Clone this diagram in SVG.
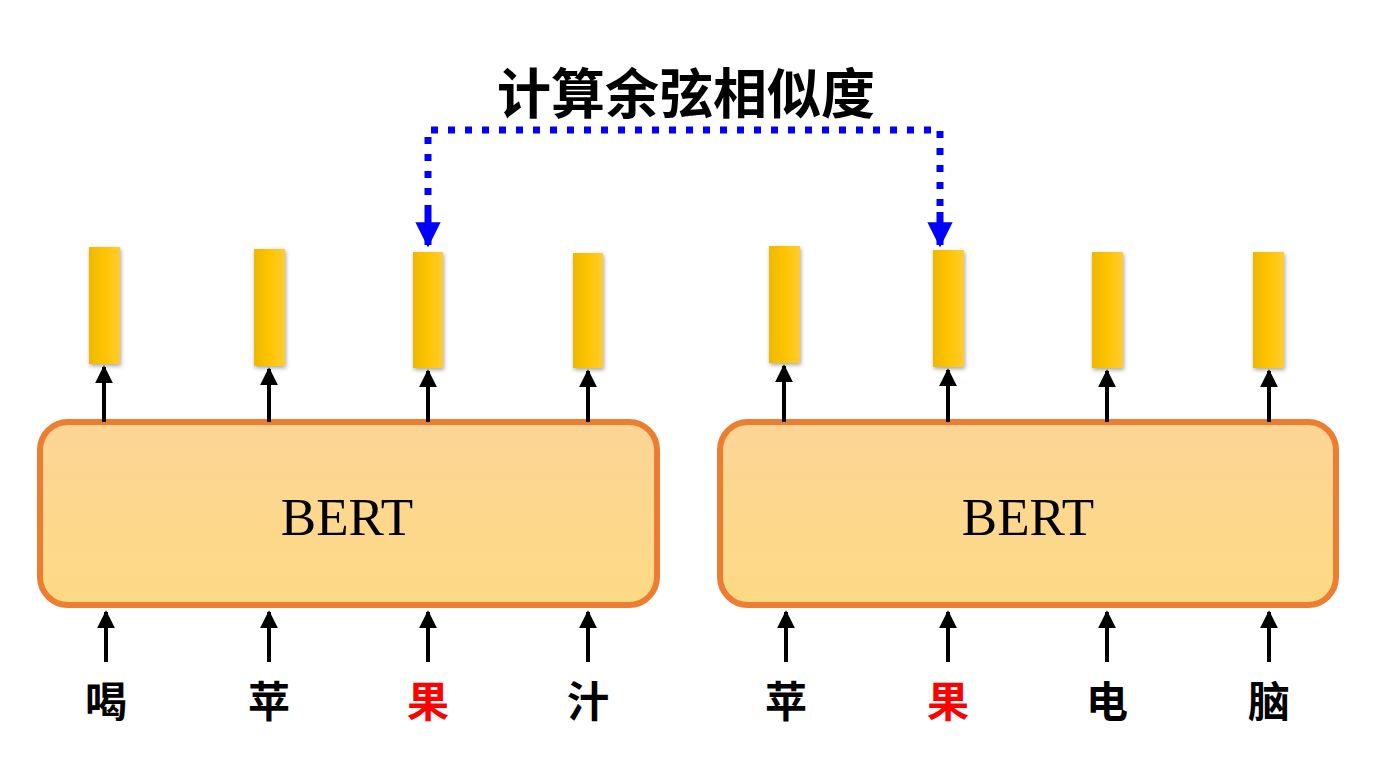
<svg xmlns="http://www.w3.org/2000/svg" width="1380" height="776" viewBox="0 0 1380 776">
<defs>
<linearGradient id="bar" x1="0" x2="1" y1="0" y2="0"><stop offset="0" stop-color="#EDB800"/><stop offset="0.5" stop-color="#FFC400"/><stop offset="1" stop-color="#FFCC33"/></linearGradient>
<linearGradient id="box" x1="0" x2="0" y1="0" y2="1"><stop offset="0" stop-color="#FCD596"/><stop offset="1" stop-color="#FDDA85"/></linearGradient>
<filter id="sh" x="-30%" y="-10%" width="160%" height="130%"><feDropShadow dx="1" dy="2" stdDeviation="2" flood-opacity="0.35"/></filter>
<marker id="ah" viewBox="0 0 10 10" refX="9" refY="5" markerWidth="4.5" markerHeight="4.5" orient="auto"><path d="M0,0L10,5L0,10z" fill="#000"/></marker>
<marker id="bh" viewBox="0 0 10 10" refX="9" refY="5" markerWidth="3.6" markerHeight="3.6" orient="auto"><path d="M0,0L10,5L0,10z" fill="#0000FF"/></marker>
</defs>
<style>
.bar{fill:url(#bar);filter:url(#sh)}
.bx{fill:url(#box);stroke:#ED7D31;stroke-width:6}
.a{stroke:#000;stroke-width:4;marker-end:url(#ah);fill:none}
.t{font-family:"Liberation Serif","Noto Sans CJK SC",serif;font-weight:bold;font-size:42px;text-anchor:middle}
.bt{font-family:"Liberation Serif",serif;font-size:53px;text-anchor:middle}
</style>
<g id="title"><text x="686" y="114" class="t" style="font-size:54px">计算余弦相似度</text></g>
<g id="bert1"><rect x="40" y="422" width="617" height="183" rx="28" class="bx"/><text x="347" y="535" class="bt">BERT</text></g>
<g id="bert2"><rect x="720" y="422" width="616" height="183" rx="28" class="bx"/><text x="1028" y="535" class="bt">BERT</text></g>
<g id="vectors">
<rect x="89" y="247" width="31" height="117" class="bar"/>
<rect x="254" y="249" width="31" height="117" class="bar"/>
<rect x="413" y="252" width="30" height="116" class="bar"/>
<rect x="573" y="253" width="30" height="115" class="bar"/>
<rect x="769" y="246" width="31" height="117" class="bar"/>
<rect x="933" y="250" width="31" height="117" class="bar"/>
<rect x="1092" y="252" width="31" height="116" class="bar"/>
<rect x="1253" y="252" width="31" height="116" class="bar"/>
</g>
<g id="tokens">
<text x="106" y="717" class="t">喝</text>
<text x="269" y="717" class="t">苹</text>
<text x="428" y="717" class="t" fill="#FF0000">果</text>
<text x="588" y="717" class="t">汁</text>
<text x="786" y="717" class="t">苹</text>
<text x="948" y="717" class="t" fill="#FF0000">果</text>
<text x="1107" y="717" class="t">电</text>
<text x="1269" y="717" class="t">脑</text>
</g>
<g id="connectors">
<path class="a" d="M104,422V367"/><path class="a" d="M269,422V369"/><path class="a" d="M428,422V371"/><path class="a" d="M588,422V371"/>
<path class="a" d="M784,422V366"/><path class="a" d="M948,422V370"/><path class="a" d="M1107,422V371"/><path class="a" d="M1269,422V371"/>
<path class="a" d="M106,662V612"/><path class="a" d="M269,662V612"/><path class="a" d="M428,662V612"/><path class="a" d="M588,662V612"/>
<path class="a" d="M786,662V612"/><path class="a" d="M948,662V612"/><path class="a" d="M1107,662V612"/><path class="a" d="M1269,662V612"/>
<path d="M428,212V130H940V212" fill="none" stroke="#0000FF" stroke-width="7" stroke-dasharray="7,10"/>
<path d="M428,212V245" fill="none" stroke="#0000FF" stroke-width="7" marker-end="url(#bh)"/>
<path d="M940,212V245" fill="none" stroke="#0000FF" stroke-width="7" marker-end="url(#bh)"/>
</g>
</svg>
